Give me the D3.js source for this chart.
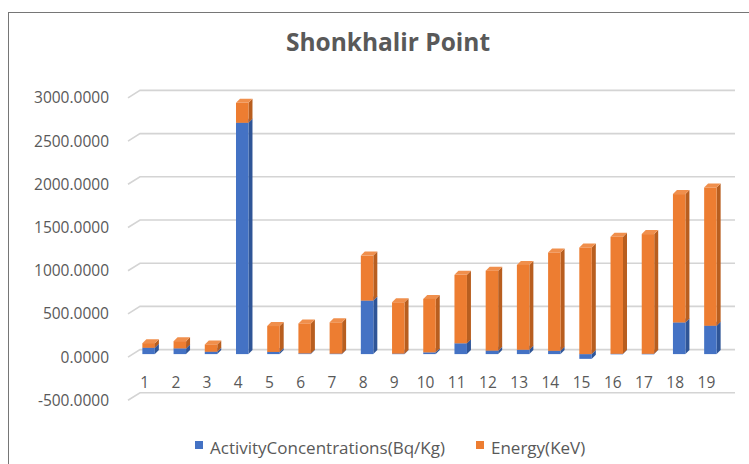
<!DOCTYPE html>
<html>
<head>
<meta charset="utf-8">
<script src="https://cdn.jsdelivr.net/npm/d3@7"></script>
<style>
  html, body { margin: 0; padding: 0; background: #fff; }
  svg { display: block; }
</style>
</head>
<body>
<svg id="chart" width="749" height="464"></svg>
<script>
// ---- data ----
const categories = ["1","2","3","4","5","6","7","8","9","10","11","12","13","14","15","16","17","18","19"];
const activity = [73, 66, 27, 2677, 25, 8, 5, 619, 5, 20, 125, 40, 50, 38, -55, 3, 3, 366, 328];
const energy   = [54, 84, 85, 231, 300, 347, 363, 521, 595, 619, 792, 926, 982, 1138, 1234, 1355, 1386, 1486, 1600];
const seriesNames = ["ActivityConcentrations(Bq/Kg)", "Energy(KeV)"];
const yTicks = [-500, 0, 500, 1000, 1500, 2000, 2500, 3000];
const title = "Shonkhalir Point";

// ---- styles ----
const colors = [
  { front: "#4472C4", side: "#2F5597", top: "#5A84D0" },
  { front: "#ED7D31", side: "#B85E1F", top: "#F08F4C" }
];
const textColor = "#595959";
const gridColor = "#D4D4D4";
const fontFamily = "'Open Sans', 'Noto Sans', sans-serif";

const svg = d3.select("#chart");

// frame
svg.append("rect")
  .attr("x", 8.5).attr("y", 12.5)
  .attr("width", 800).attr("height", 500)
  .attr("fill", "#fff").attr("stroke", "#767676").attr("stroke-width", 1);

// title
svg.append("text")
  .attr("x", 388).attr("y", 41)
  .attr("text-anchor", "middle").attr("dominant-baseline", "central")
  .attr("font-family", fontFamily).attr("font-weight", 700)
  .attr("font-size", 24.5).attr("fill", textColor)
  .text(title);

// ---- scales ----
const x = d3.scaleBand().domain(categories).range([129, 722]).paddingInner(0.6).paddingOuter(0.3);
const yFront = d3.scaleLinear().domain([-500, 3000]).range([400.3, 97.9]);

// 3D offsets
const backDx = 11, backDy = -7.5;   // back wall relative to front plane
const barDx = 4, barDy = -3;        // bar plane relative to front plane
const depth = 4;                    // bar depth
const gridRight = 735;

// gridlines (back wall + left diagonal)
const grid = svg.append("g");
yTicks.forEach(v => {
  const yf = yFront(v);
  const xb = x.range()[0] + backDx;
  grid.append("path")
    .attr("d", `M${x.range()[0] - 1},${yf} L${xb},${yf + backDy} L${gridRight},${yf + backDy}`)
    .attr("fill", "none").attr("stroke", gridColor).attr("stroke-width", 1.6);
});

// y axis labels
const fmt = d3.formatLocale({decimal: ".", thousands: "", grouping: [3], currency: ["", ""], minus: "-"}).format(".4f");
const yAxis = svg.append("g")
  .attr("transform", "translate(109,0)")
  .call(d3.axisLeft(yFront).tickValues(yTicks).tickFormat(fmt).tickSize(0).tickPadding(0));
yAxis.select(".domain").remove();
yAxis.selectAll("text").attr("font-family", fontFamily).attr("font-size", 15.5).attr("fill", textColor);

// x axis labels
const xAxis = svg.append("g")
  .attr("transform", "translate(0,377)")
  .call(d3.axisBottom(x).tickSize(0).tickPadding(0));
xAxis.select(".domain").remove();
xAxis.selectAll("text").attr("font-family", fontFamily).attr("font-size", 15.5).attr("fill", textColor);

// ---- stacked bars ----
const rows = categories.map((c, i) => ({ cat: c, a: activity[i], e: energy[i] }));
const stack = d3.stack().keys(["a", "e"]).offset(d3.stackOffsetDiverging);
const stacked = stack(rows);

const barG = svg.append("g");
const w = x.bandwidth();
categories.forEach((c, i) => {
  stacked.forEach((layer, k) => {
    const d = layer[i];
    const lo = Math.min(d[0], d[1]), hi = Math.max(d[0], d[1]);
    if (hi - lo <= 0) return;
    const x0 = x(c) + barDx;
    const yT = yFront(hi) + barDy;
    const yB = yFront(lo) + barDy;
    const col = colors[k];
    const g = barG.append("g");
    // side face
    g.append("path")
      .attr("d", `M${x0 + w},${yT} L${x0 + w + depth},${yT - depth} L${x0 + w + depth},${yB - depth} L${x0 + w},${yB} Z`)
      .attr("fill", col.side);
    // top face
    g.append("path")
      .attr("d", `M${x0},${yT} L${x0 + depth},${yT - depth} L${x0 + w + depth},${yT - depth} L${x0 + w},${yT} Z`)
      .attr("fill", col.top);
    // front face
    g.append("rect")
      .attr("x", x0).attr("y", yT)
      .attr("width", w).attr("height", Math.max(0.5, yB - yT))
      .attr("fill", col.front);
  });
});

// ---- legend ----
const legend = svg.append("g");
const legendItems = [
  { name: seriesNames[0], color: colors[0].front, x: 195 },
  { name: seriesNames[1], color: colors[1].front, x: 476 }
];
legendItems.forEach(it => {
  legend.append("rect").attr("x", it.x).attr("y", 441).attr("width", 8).attr("height", 8).attr("fill", it.color);
  legend.append("text")
    .attr("x", it.x + 15).attr("y", 447)
    .attr("dominant-baseline", "central")
    .attr("font-family", fontFamily).attr("font-size", 17).attr("fill", textColor)
    .text(it.name);
});
</script>
</body>
</html>
